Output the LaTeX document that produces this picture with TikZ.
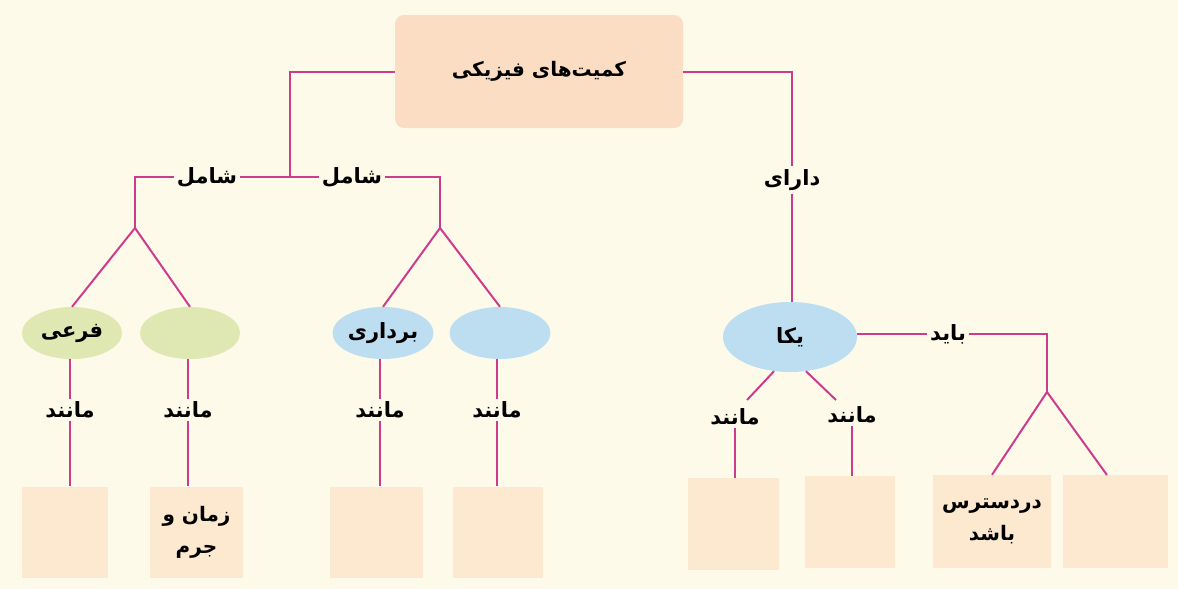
\documentclass[tikz,border=0pt]{standalone}
\usepackage{fontspec}
\newfontfamily\arabicfont[Script=Arabic]{DejaVu Sans}
\TeXXeTstate=1
\usetikzlibrary{shapes.geometric}
\definecolor{bgc}{RGB}{254,250,234}
\definecolor{topc}{RGB}{250,221,195}
\definecolor{boxc}{RGB}{252,233,207}
\definecolor{greenc}{RGB}{223,231,178}
\definecolor{bluec}{RGB}{188,222,240}
\definecolor{linec}{RGB}{205,60,140}
\newcommand{\fa}[1]{\beginR #1\endR}
\tikzset{
  conn/.style={draw=linec, line width=2pt},
  txt/.style={font=\arabicfont\bfseries\fontsize{21}{26}\selectfont, text=black, inner sep=3pt},
  topbox/.style={fill=topc, rounded corners=9pt, minimum width=288pt, minimum height=113pt, font=\arabicfont\bfseries\fontsize{20}{28}\selectfont},
  ansbox/.style={fill=boxc, minimum height=91pt, align=center, font=\arabicfont\bfseries\fontsize{20}{32}\selectfont},
  gell/.style={ellipse, fill=greenc, minimum width=100pt, minimum height=52pt, inner sep=0pt, font=\arabicfont\bfseries\fontsize{21}{26}\selectfont},
  bell/.style={ellipse, fill=bluec, minimum width=101pt, minimum height=52pt, inner sep=0pt, font=\arabicfont\bfseries\fontsize{21}{26}\selectfont}
}
\begin{document}
\begin{tikzpicture}[x=1pt,y=-1pt]
\fill[bgc] (0,0) rectangle (1178,589);
\useasboundingbox (0,0) rectangle (1178,589);

% top box
\node[topbox] (top) at (539,71.5) {\fa{کمیت‌های فیزیکی}};

% left branch
\coordinate (L0) at (290,177);
\coordinate (La) at (135,177);
\coordinate (Lap) at (135,228);
\coordinate (Ra) at (440,177);
\coordinate (Rap) at (440,228);
\node[txt] (sh1) at (207,177) {\fa{شامل}};
\node[txt] (sh2) at (352,177) {\fa{شامل}};

% ellipses
\node[gell] (e1) at (72,333) {\fa{فرعی}};
\node[gell] (e2) at (190,333) {};
\node[bell] (e3) at (383,333) {\fa{برداری}};
\node[bell] (e4) at (500,333) {};
\node[bell, minimum width=134pt, minimum height=70pt] (e5) at (790,337) {\fa{یکا}};

% like labels
\node[txt] (m1) at (70,410) {\fa{مانند}};
\node[txt] (m2) at (188,410) {\fa{مانند}};
\node[txt] (m3) at (380,410) {\fa{مانند}};
\node[txt] (m4) at (497,410) {\fa{مانند}};
\node[txt] (m5) at (735,417) {\fa{مانند}};
\node[txt] (m6) at (852,415) {\fa{مانند}};
\coordinate (k5) at (747,400);
\coordinate (k6) at (836,400);

% answer boxes
\node[ansbox, minimum width=86pt] (b1) at (65,532) {};
\node[ansbox, minimum width=93pt] (b2) at (196.5,532) {\fa{زمان و}\\\fa{جرم}};
\node[ansbox, minimum width=93pt] (b3) at (376.5,532) {};
\node[ansbox, minimum width=90pt] (b4) at (498,532) {};
\node[ansbox, minimum width=91pt, minimum height=92pt] (b5) at (733.5,524) {};
\node[ansbox, minimum width=90pt, minimum height=92pt] (b6) at (850,522) {};
\node[ansbox, minimum width=118pt, minimum height=93pt] (b7) at (992,521.5) {\fa{دردسترس}\\\fa{باشد}};
\node[ansbox, minimum width=105pt, minimum height=93pt] (b8) at (1115.5,521.5) {};

% right labels
\node[txt] (dr) at (792,180) {\fa{دارای}};
\node[txt] (ba) at (948,334) {\fa{باید}};
\coordinate (Bap) at (1047,392);
\coordinate (t8) at (1107,475);

% connectors
\draw[conn] (top.west) -| (L0);
\draw[conn] (L0) -- (sh1.east);
\draw[conn] (sh1.west) -- (La) -- (Lap);
\draw[conn] (L0) -- (sh2.west);
\draw[conn] (sh2.east) -- (Ra) -- (Rap);
\draw[conn] (Lap) -- (e1.north);
\draw[conn] (Lap) -- (e2.north);
\draw[conn] (Rap) -- (e3.north);
\draw[conn] (Rap) -- (e4.north);
\foreach \i in {1,2,3,4}{
  \draw[conn] (e\i.south -| m\i.north) -- (m\i.north);
  \draw[conn] (m\i.south) -- (m\i.south |- b\i.north);
}
\draw[conn] (top.east) -| (dr.north);
\draw[conn] (dr.south) -- (dr.south |- e5.north);
\draw[conn] (e5.245) -- (k5);
\draw[conn] (e5.295) -- (k6);
\draw[conn] (m5.south) -- (m5.south |- b5.north);
\draw[conn] (m6.south) -- (m6.south |- b6.north);
\draw[conn] (e5.east |- ba.west) -- (ba.west);
\draw[conn] (ba.east) -| (Bap);
\draw[conn] (Bap) -- (b7.north);
\draw[conn] (Bap) -- (t8);
\end{tikzpicture}
\end{document}
